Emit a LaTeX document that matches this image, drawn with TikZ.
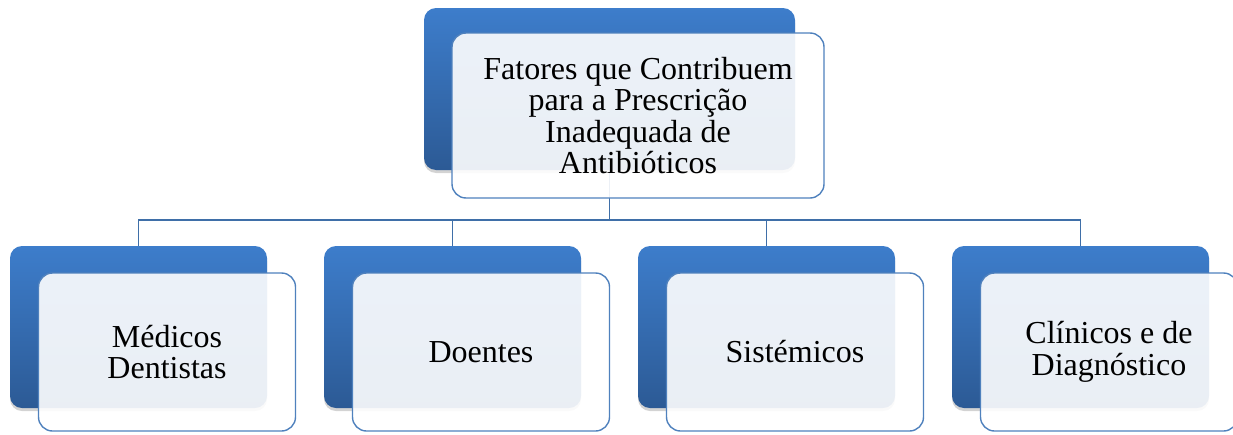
\documentclass[tikz,border=0pt]{standalone}
\usepackage{fontspec}
\setmainfont{Liberation Serif}
\usetikzlibrary{shadows}

\definecolor{bluetop}{HTML}{3D7DCB}
\definecolor{bluebot}{HTML}{2C5A95}
\definecolor{frame}{HTML}{4F81BD}
\definecolor{linkcol}{HTML}{3F6FA8}

\tikzset{
  backbox/.style={rectangle, rounded corners=12pt, top color=bluetop, bottom color=bluebot,
    draw=none, inner sep=0pt,
    drop shadow={shadow xshift=0pt, shadow yshift=-3pt, opacity=0.35}},
  frontbox/.style={rectangle, rounded corners=14pt, draw=frame, line width=1.4pt,
    fill=white, fill opacity=0.9, text opacity=1, align=center, inner sep=0pt,
    font=\fontsize{32}{31.6}\selectfont},
  link/.style={draw=linkcol, line width=1.3pt}
}

\begin{document}
\begin{tikzpicture}[x=1pt, y=-1pt]
  \useasboundingbox (0,0) rectangle (1233,434);
  \clip (0,0) rectangle (1233,434);

  % back (blue) boxes
  \node[backbox, minimum width=371pt, minimum height=162pt] (top) at (609.5,89) {};
  \foreach \i/\x in {1/138.5, 2/452.5, 3/766.5, 4/1080.5}
    \node[backbox, minimum width=257pt, minimum height=162pt] (b\i) at (\x,327) {};

  % connectors
  \coordinate (bus) at (0,220);
  \foreach \i in {1,...,4}
    \draw[link] (top.south) -- (top.south |- bus) -| (b\i.north);

  % front boxes with text
  \node[frontbox, minimum width=372pt, minimum height=165pt, xshift=28.5pt, yshift=-26.5pt]
    (topf) at (top.center) {Fatores que Contribuem\\para a Prescrição\\Inadequada de\\Antibióticos};
  \foreach \i/\txt in {1/{Médicos\\Dentistas}, 2/{Doentes}, 3/{Sistémicos}, 4/{Clínicos e de\\Diagnóstico}}
    \node[frontbox, minimum width=257pt, minimum height=158pt, xshift=28.5pt, yshift=-25pt]
      (f\i) at (b\i.center) {\txt};
\end{tikzpicture}
\end{document}
